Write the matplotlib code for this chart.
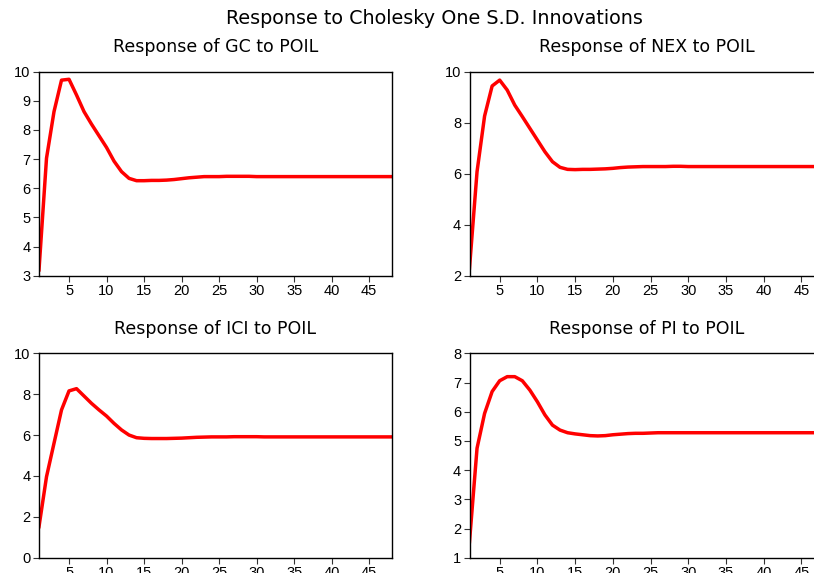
import matplotlib.pyplot as plt

plt.rcParams['font.family'] = ['Liberation Sans', 'DejaVu Sans']

periods = list(range(1, 49))

# impulse responses (tail stays flat)
gc = [3.2, 7.03, 8.63, 9.71, 9.74, 9.2, 8.63, 8.2, 7.8, 7.4, 6.93, 6.57, 6.34, 6.26,
      6.26, 6.27, 6.27, 6.28, 6.3, 6.33, 6.36, 6.38, 6.4, 6.4, 6.4, 6.41, 6.41, 6.41,
      6.41, 6.4, 6.4, 6.4, 6.4, 6.4, 6.4, 6.4, 6.4, 6.4, 6.4, 6.4, 6.4, 6.4, 6.4, 6.4,
      6.4, 6.4, 6.4, 6.4]
nex = [2.3, 6.08, 8.26, 9.44, 9.67, 9.28, 8.69, 8.24, 7.78, 7.32, 6.86, 6.47, 6.25, 6.17,
       6.16, 6.17, 6.17, 6.18, 6.19, 6.21, 6.24, 6.26, 6.27, 6.28, 6.28, 6.28, 6.28, 6.29,
       6.29, 6.28, 6.28, 6.28, 6.28, 6.28, 6.28, 6.28, 6.28, 6.28, 6.28, 6.28, 6.28, 6.28,
       6.28, 6.28, 6.28, 6.28, 6.28, 6.28]
ici = [1.52, 3.96, 5.6, 7.23, 8.16, 8.27, 7.91, 7.55, 7.23, 6.93, 6.57, 6.25, 6.0, 5.87,
       5.84, 5.83, 5.83, 5.83, 5.84, 5.85, 5.87, 5.89, 5.9, 5.91, 5.91, 5.91, 5.92, 5.92,
       5.92, 5.92, 5.91, 5.91, 5.91, 5.91, 5.91, 5.91, 5.91, 5.91, 5.91, 5.91, 5.91, 5.91,
       5.91, 5.91, 5.91, 5.91, 5.91, 5.91]
pi = [1.55, 4.75, 5.94, 6.69, 7.06, 7.2, 7.2, 7.06, 6.74, 6.34, 5.89, 5.54, 5.37, 5.28,
      5.24, 5.21, 5.18, 5.17, 5.18, 5.21, 5.23, 5.25, 5.26, 5.26, 5.27, 5.28, 5.28, 5.28,
      5.28, 5.28, 5.28, 5.28, 5.28, 5.28, 5.28, 5.28, 5.28, 5.28, 5.28, 5.28, 5.28, 5.28,
      5.28, 5.28, 5.28, 5.28, 5.28, 5.28]

titles = ['Response of GC to POIL', 'Response of NEX to POIL',
          'Response of ICI to POIL', 'Response of PI to POIL']
series = [gc, nex, ici, pi]
ylims = [(3, 10), (2, 10), (0, 10), (1, 8)]
yticks = [range(3, 11), range(2, 11, 2), range(0, 11, 2), range(1, 9)]

W, H = 814, 573
fig = plt.figure(figsize=(W / 100, H / 100), dpi=100)

# axes boxes in pixels: left, top, right, bottom
boxes = [(39, 71.7, 391.7, 275.7), (469.5, 71.7, 824, 275.7),
         (39, 353.3, 391.7, 557.7), (469.5, 353.3, 824, 557.7)]

for i in range(4):
    l, t, r, b = boxes[i]
    ax = fig.add_axes([l / W, 1 - b / H, (r - l) / W, (b - t) / H])
    ax.plot(periods, series[i], color='#ff0000', lw=2.5, solid_joinstyle='round')
    ax.set_xlim(1, 48)
    ax.set_ylim(*ylims[i])
    ax.set_xticks(range(5, 48, 5))
    ax.set_yticks(list(yticks[i]))
    ax.tick_params(direction='out', length=4, width=0.8, labelsize=10.5, pad=2,
                   color='#333333')
    for sp in ax.spines.values():
        sp.set_linewidth(1.0)
    ax.set_title(titles[i], fontsize=12.5, pad=14, family='DejaVu Sans')

fig.text(434 / W, 1 - 18 / H, 'Response to Cholesky One S.D. Innovations',
         ha='center', va='center', fontsize=13.8, family='DejaVu Sans')

fig.savefig('out.png', dpi=100)
